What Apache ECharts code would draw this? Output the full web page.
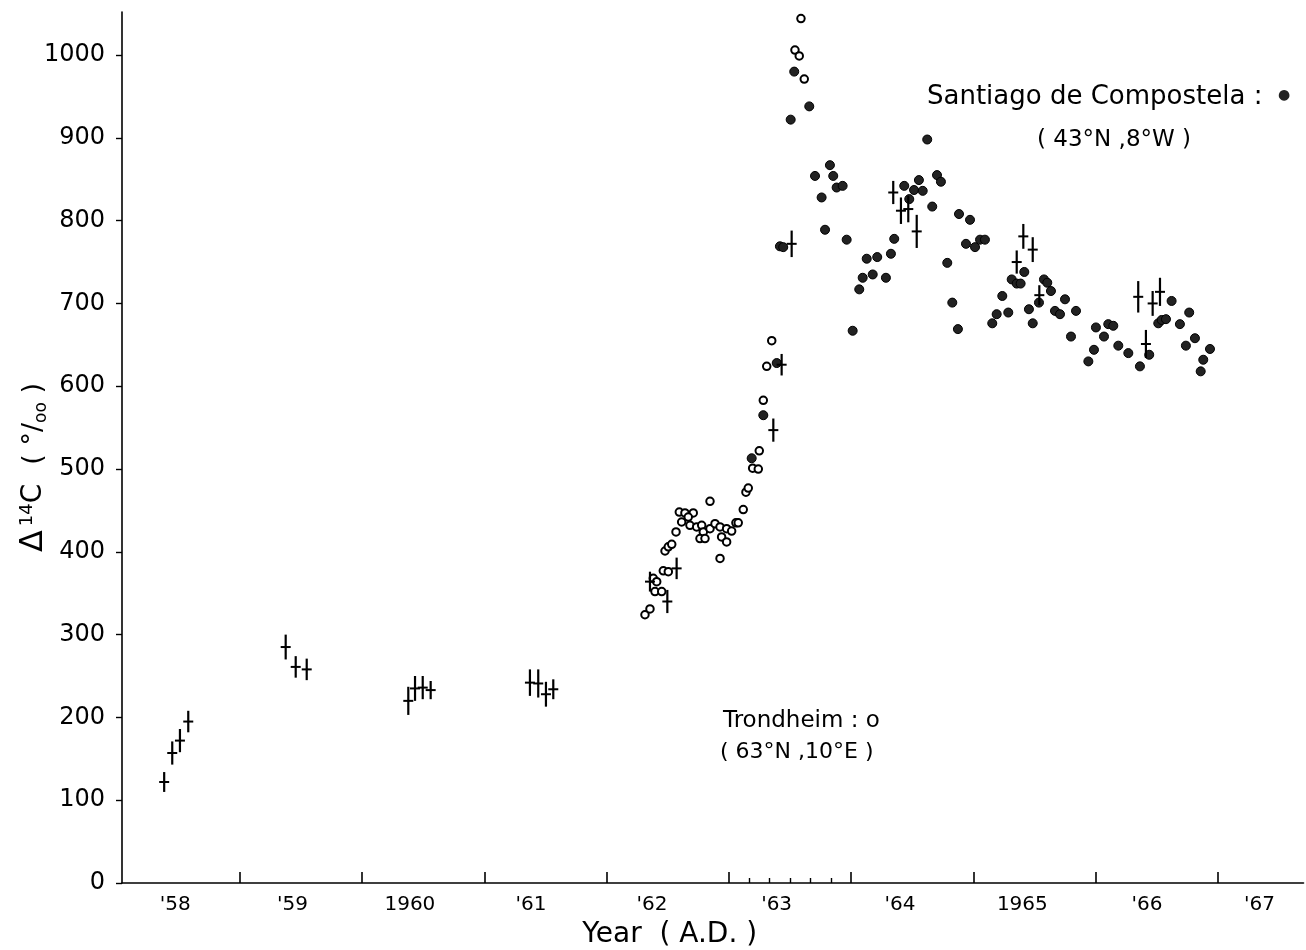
<!DOCTYPE html>
<html>
<head>
<meta charset="utf-8">
<script src="https://cdn.jsdelivr.net/npm/echarts@6/dist/echarts.min.js"></script>
<style>
html,body{margin:0;padding:0;background:#fff;}
#c{width:1306px;height:950px;}
</style>
</head>
<body>
<div id="c"></div>
<script>
// ---- axis values ----
const yearTicks = [1959, 1960, 1961, 1962, 1963, 1964, 1965, 1966, 1967];
const minorTicks1963 = [1963 + 1/6, 1963 + 2/6, 1963 + 3/6, 1963 + 4/6, 1963 + 5/6];
const yearLabelValues = [1958.47, 1959.43, 1960.39, 1961.38, 1962.37, 1963.39, 1964.40, 1965.40, 1966.42, 1967.34];
const yearLabels = ["'58", "'59", "1960", "'61", "'62", "'63", "'64", "1965", "'66", "'67"];
const yTicks = [0, 100, 200, 300, 400, 500, 600, 700, 800, 900, 1000];

// ---- data: Trondheim (open circles) [year, delta14C] ----
const trondheim = [
  [1962.313, 324], [1962.354, 331], [1962.381, 368], [1962.409, 364], [1962.395, 352], [1962.45, 352],
  [1962.463, 377], [1962.504, 376], [1962.477, 401], [1962.504, 406], [1962.532, 409], [1962.567, 424],
  [1962.594, 448], [1962.64, 447], [1962.708, 447], [1962.613, 436], [1962.667, 442], [1962.681, 432],
  [1962.736, 430], [1962.777, 432], [1962.79, 424], [1962.763, 416], [1962.804, 416], [1962.845, 461],
  [1962.845, 428], [1962.886, 434], [1962.927, 430], [1962.927, 392], [1962.94, 418], [1962.981, 428],
  [1962.981, 412], [1963.022, 425], [1963.057, 435], [1963.076, 435], [1963.117, 451], [1963.139, 472],
  [1963.158, 477], [1963.194, 501], [1963.24, 500], [1963.248, 522], [1963.281, 583], [1963.309, 624],
  [1963.35, 655], [1963.589, 1044], [1963.54, 1006], [1963.575, 999], [1963.616, 971]
];

// ---- data: Santiago de Compostela (filled circles) [year, delta14C] ----
const santiago = [
  [1963.186, 513], [1963.281, 565], [1963.391, 628], [1963.417, 769], [1963.444, 768], [1963.534, 980],
  [1963.657, 938], [1963.505, 922], [1963.826, 867], [1963.704, 854], [1963.853, 854], [1963.881, 840],
  [1963.93, 842], [1963.758, 828], [1963.786, 789], [1963.963, 777], [1964.012, 667], [1964.066, 717],
  [1964.094, 731], [1964.176, 735], [1964.284, 731], [1964.127, 754], [1964.213, 756], [1964.325, 760],
  [1964.352, 778], [1964.434, 842], [1964.475, 826], [1964.514, 837], [1964.585, 836], [1964.554, 849],
  [1964.622, 898], [1964.663, 817], [1964.702, 855], [1964.734, 847], [1964.786, 749], [1964.827, 701],
  [1964.873, 669], [1964.882, 808], [1964.972, 801], [1964.939, 772], [1965.013, 768], [1965.054, 777],
  [1965.094, 777], [1965.154, 676], [1965.19, 687], [1965.285, 689], [1965.236, 709], [1965.313, 729],
  [1965.354, 724], [1965.386, 724], [1965.416, 738], [1965.454, 693], [1965.485, 676], [1965.536, 701],
  [1965.577, 729], [1965.604, 725], [1965.634, 715], [1965.667, 691], [1965.708, 687], [1965.749, 705],
  [1965.839, 691], [1965.798, 660], [1966.002, 671], [1965.986, 644], [1965.94, 630], [1966.068, 660],
  [1966.103, 675], [1966.144, 673], [1966.185, 649], [1966.267, 640], [1966.362, 624], [1966.438, 638],
  [1966.512, 676], [1966.54, 680], [1966.575, 681], [1966.621, 703], [1966.689, 675], [1966.765, 689],
  [1966.738, 649], [1966.812, 658], [1966.859, 618], [1966.88, 632], [1966.935, 645]
];

// ---- data: crosses with error bars [year, delta14C, error] ----
const crosses = [
  [1958.38, 122, 12], [1958.446, 157, 14], [1958.509, 172, 14], [1958.577, 195, 13],
  [1959.374, 285, 15], [1959.456, 261, 13], [1959.546, 258, 13],
  [1960.377, 220, 17], [1960.432, 235, 15], [1960.495, 236, 14], [1960.56, 233, 11],
  [1961.372, 242, 16], [1961.44, 241, 17], [1961.503, 228, 15], [1961.563, 234, 12],
  [1962.354, 364, 12], [1962.496, 340, 14], [1962.572, 380, 13],
  [1963.363, 547, 14], [1963.431, 626, 13], [1963.513, 772, 16],
  [1964.344, 834, 14], [1964.407, 812, 16], [1964.467, 814, 16], [1964.536, 787, 20],
  [1965.354, 750, 14], [1965.408, 781, 15], [1965.485, 765, 15], [1965.539, 710, 12],
  [1966.348, 708, 19], [1966.466, 700, 15], [1966.526, 714, 17], [1966.411, 651, 17]
];

const FONT = 'DejaVu Sans';
const chart = echarts.init(document.getElementById('c'), null, {renderer: 'canvas'});

function yearLabelFor(v) {
  let best = -1, bd = 1e9;
  for (let i = 0; i < yearLabelValues.length; i++) {
    const d = Math.abs(yearLabelValues[i] - v);
    if (d < bd) { bd = d; best = i; }
  }
  return (best >= 0 && bd < 0.05) ? yearLabels[best] : '';
}

const option = {
  backgroundColor: '#ffffff',
  animation: false,
  grid: {left: 122, right: 2.5, top: 12, bottom: 67, containLabel: false, outerBoundsMode: 'none'},
  xAxis: [
    {
      type: 'value', min: 1958.035, max: 1967.7, position: 'bottom',
      name: 'Year  ( A.D. )', nameLocation: 'middle', nameGap: 38, nameMoveOverlap: false,
      nameTextStyle: {fontFamily: FONT, fontSize: 28, color: '#000', padding: [0, 86, 0, 0]},
      axisLine: {show: true, onZero: false, lineStyle: {color: '#000', width: 1.6}},
      axisTick: {show: true, inside: true, length: 11, customValues: yearTicks, lineStyle: {color: '#000', width: 1.6}},
      axisLabel: {
        show: true, customValues: yearLabelValues, margin: 12, hideOverlap: false,
        fontFamily: FONT, fontSize: 20, color: '#000',
        formatter: function (v) { return yearLabelFor(v); }
      },
      splitLine: {show: false}
    },
    {
      type: 'value', min: 1958.035, max: 1967.7, position: 'bottom',
      axisLine: {show: false},
      axisTick: {show: true, inside: true, length: 5, customValues: minorTicks1963, lineStyle: {color: '#000', width: 1.4}},
      axisLabel: {show: false},
      splitLine: {show: false}
    }
  ],
  yAxis: {
    type: 'value', min: 0, max: 1052,
    name: '{d|Δ} {s|14}{c|C}     {p|( °/}{o|oo}{p| )}',
    nameLocation: 'middle', nameGap: 72, nameRotate: 90, nameMoveOverlap: false,
    nameTextStyle: {
      color: '#000', fontFamily: FONT, padding: [0, 40, 0, 0],
      rich: {
        d: {fontFamily: FONT, fontSize: 32, color: '#000'},
        s: {fontFamily: FONT, fontSize: 18, color: '#000', verticalAlign: 'top', padding: [0, 0, 12, 0]},
        c: {fontFamily: FONT, fontSize: 28, color: '#000'},
        p: {fontFamily: FONT, fontSize: 27, color: '#000'},
        o: {fontFamily: FONT, fontSize: 17, color: '#000', verticalAlign: 'bottom'}
      }
    },
    axisLine: {show: true, onZero: false, lineStyle: {color: '#000', width: 1.6}},
    axisTick: {show: true, inside: false, length: 6, customValues: yTicks, lineStyle: {color: '#000', width: 1.4}},
    axisLabel: {
      show: true, customValues: yTicks, margin: 17, fontFamily: FONT, fontSize: 24, color: '#000',
      formatter: function (v) { return String(Math.round(v)); }
    },
    splitLine: {show: false}
  },
  graphic: [
    {type: 'text', left: 927, top: 84, style: {text: 'Santiago de Compostela :', fontFamily: FONT, fontSize: 26, fill: '#000'}},
    {type: 'text', left: 1278, top: 88, style: {text: '●', fontFamily: FONT, fontSize: 14, fill: '#222'}},
    {type: 'text', left: 1037, top: 129, style: {text: '( 43°N ,8°W )', fontFamily: FONT, fontSize: 23, fill: '#000'}},
    {type: 'text', left: 723, top: 710, style: {text: 'Trondheim : o', fontFamily: FONT, fontSize: 23, fill: '#000'}},
    {type: 'text', left: 720, top: 741, style: {text: '( 63°N ,10°E )', fontFamily: FONT, fontSize: 22, fill: '#000'}}
  ],
  series: [
    {
      name: 'Crosses', type: 'custom', xAxisIndex: 0, yAxisIndex: 0,
      data: crosses, encode: {x: 0, y: 1},
      renderItem: function (params, api) {
        const x = api.value(0), y = api.value(1), e = api.value(2);
        const c = api.coord([x, y]);
        const t = api.coord([x, y + e]);
        const b = api.coord([x, y - e]);
        return {
          type: 'group',
          children: [
            {type: 'line', shape: {x1: c[0], y1: t[1], x2: c[0], y2: b[1]}, style: {stroke: '#000', lineWidth: 2.2}},
            {type: 'line', shape: {x1: c[0] - 5, y1: c[1], x2: c[0] + 5, y2: c[1]}, style: {stroke: '#000', lineWidth: 2}}
          ]
        };
      },
      z: 3
    },
    {
      name: 'Trondheim', type: 'scatter', xAxisIndex: 0, yAxisIndex: 0,
      data: trondheim, symbol: 'circle', symbolSize: 7.5,
      itemStyle: {color: '#fff', borderColor: '#000', borderWidth: 2, opacity: 1},
      z: 2
    },
    {
      name: 'Santiago de Compostela', type: 'scatter', xAxisIndex: 0, yAxisIndex: 0,
      data: santiago, symbol: 'circle', symbolSize: 9,
      itemStyle: {color: '#222', borderColor: '#000', borderWidth: 1, opacity: 1},
      z: 2
    }
  ]
};
chart.setOption(option);
</script>
</body>
</html>
